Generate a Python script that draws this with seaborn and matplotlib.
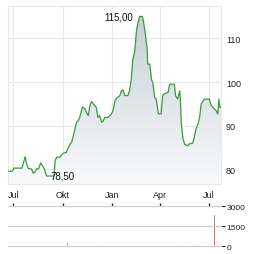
import numpy as np
import pandas as pd
import matplotlib
matplotlib.use("Agg")
import matplotlib.pyplot as plt
from matplotlib.colors import LinearSegmentedColormap
from matplotlib.patches import Polygon
import seaborn as sns

# ---- data (days since 1 Jul of first year) ----
days = [-10, -2, 0, 1, 16, 22, 25, 28, 34, 37, 40, 44, 47, 51, 54, 58, 62, 72, 76,
        78, 81, 87, 90, 93, 99, 102, 106, 109, 112, 115, 118, 121, 124, 128, 129,
        134, 137, 140, 143, 146, 152, 155, 158, 161, 165, 168, 171, 177, 180, 183,
        186, 190, 193, 199, 202, 205, 208, 214, 217, 220, 223, 227, 230, 233, 236,
        241, 243, 247, 250, 251, 255, 258, 261, 264, 267, 271, 276, 279, 282, 289,
        292, 301, 303, 307, 311, 312, 314, 315, 317, 320, 323, 326, 328, 335, 338,
        341, 345, 348, 351, 353, 357, 366, 370, 373, 379, 382, 384, 386, 388]
prices = [79.6, 79.6, 80.0, 80.3, 80.3, 82.9, 81.2, 80.2, 80.1, 79.2, 79.3, 80.2, 80.1,
          81.5, 80.9, 80.1, 78.5, 78.5, 78.5, 82.0, 82.8, 82.8, 83.3, 83.7, 83.9, 84.8,
          85.8, 86.2, 87.7, 89.2, 90.8, 91.1, 91.9, 93.8, 94.3, 93.8, 93.0, 92.3, 94.6,
          95.5, 94.6, 94.2, 91.9, 92.3, 90.8, 91.1, 91.9, 91.9, 92.3, 92.6, 93.4, 95.7,
          96.3, 96.9, 98.0, 98.2, 96.9, 96.9, 98.0, 100.3, 104.9, 107.2, 111.7, 113.7,
          115.0, 115.0, 114.0, 110.6, 107.6, 104.1, 104.1, 100.7, 99.5, 96.5, 96.1, 92.7,
          92.7, 96.9, 97.3, 97.6, 99.5, 99.5, 96.9, 96.1, 98.0, 96.1, 90.0, 89.2, 87.0,
          85.8, 85.6, 85.4, 85.8, 86.0, 87.3, 89.2, 90.4, 91.9, 95.0, 95.4, 96.1, 96.1,
          94.6, 94.2, 93.4, 92.7, 96.1, 94.2, 94.2]

vol_days = [100, 160, 172, 221, 311, 334, 375]
volumes = [345, 90, 90, 70, 80, 70, 2420]
vol_up = [True, False, False, True, False, True, False]

tick_days = [0, 92, 184, 274, 365]
tick_labels = ["Jul", "Okt", "Jan", "Apr", "Jul"]
price_ticks = [80, 90, 100, 110]
vol_ticks = [0, 1500, 3000]

# ---- style ----
sns.set_style("white")
plt.rcParams["font.family"] = ["Liberation Sans", "DejaVu Sans"]
TXT = "#222222"
GRID = "#e8e8e8"

fig = plt.figure(figsize=(2.64, 2.55), dpi=100)
W, H = 264, 255
x0, x1 = 8, 221
ax = fig.add_axes([x0 / W, 1 - 185.3 / H, (x1 - x0) / W, (185.3 - 6.7) / H])
axv = fig.add_axes([x0 / W, 1 - 247.3 / H, (x1 - x0) / W, (247.3 - 207.3) / H])

XMIN, XMAX = -10, 388
YMIN, YMAX = 76.6, 117.46

df = pd.DataFrame({"day": days, "price": prices})

# gradient fill under the line
cmap = LinearSegmentedColormap.from_list("g", ["#f8fafb", "#c2ccd5"])
grad = np.linspace(0, 1, 256).reshape(-1, 1)
im = ax.imshow(grad, extent=[XMIN, XMAX, YMIN, YMAX], origin="lower",
               aspect="auto", cmap=cmap, zorder=1)
verts = [(days[0], YMIN)] + list(zip(days, prices)) + [(days[-1], YMIN)]
poly = Polygon(verts, closed=True, facecolor="none", edgecolor="none")
ax.add_patch(poly)
im.set_clip_path(poly)

sns.lineplot(data=df, x="day", y="price", ax=ax, color="#3c9a3c", linewidth=0.9,
             zorder=3)

ax.set_xlim(XMIN, XMAX)
ax.set_ylim(YMIN, YMAX)
ax.set_xticks(tick_days)
ax.set_xticklabels(tick_labels)
ax.set_yticks(price_ticks)
ax.set_yticklabels([str(v) for v in price_ticks])
ax.yaxis.tick_right()
ax.tick_params(axis="both", length=0, labelsize=6.5, colors=TXT)
ax.tick_params(axis="x", pad=4)
ax.tick_params(axis="y", pad=3.5)
ax.grid(True, color=GRID, linewidth=0.8, zorder=0)
ax.set_axisbelow(True)
for s in ax.spines.values():
    s.set_color(GRID)
    s.set_linewidth(0.8)
ax.set_xlabel("")
ax.set_ylabel("")

# annotations of max / min
imax = int(np.argmax(prices))
imin = int(np.argmin(prices))
ax.annotate(f"{prices[imax]:.2f}".replace(".", ","), xy=(days[imax], prices[imax]),
            xytext=(-5, 0), textcoords="offset points", ha="right", va="center",
            fontsize=7, color="#111111")
ax.annotate(f"{prices[imin]:.2f}".replace(".", ","), xy=(days[imin], prices[imin]),
            xytext=(2.5, 0), textcoords="offset points", ha="left", va="center",
            fontsize=7, color="#111111")

# ---- volume panel ----
colors = ["#119911" if u else "#c8161d" for u in vol_up]
axv.bar(vol_days, volumes, width=3.2, color=colors, zorder=3)
axv.set_xlim(XMIN, XMAX)
axv.set_ylim(0, 3000)
axv.set_yticks(vol_ticks)
axv.set_yticklabels([str(v) for v in vol_ticks])
axv.yaxis.tick_right()
axv.tick_params(axis="y", length=3, width=0.8, colors=TXT, labelsize=6, pad=1)
axv.set_xticks(tick_days)
axv.xaxis.tick_top()
axv.tick_params(axis="x", length=2.2, width=0.9, colors=TXT, labeltop=False,
                labelbottom=False)
for s in axv.spines.values():
    s.set_visible(False)
for v in vol_ticks:
    axv.axhline(v, color="#cccccc", linewidth=0.9, zorder=1, clip_on=False)

fig.savefig("out.png", dpi=100)
